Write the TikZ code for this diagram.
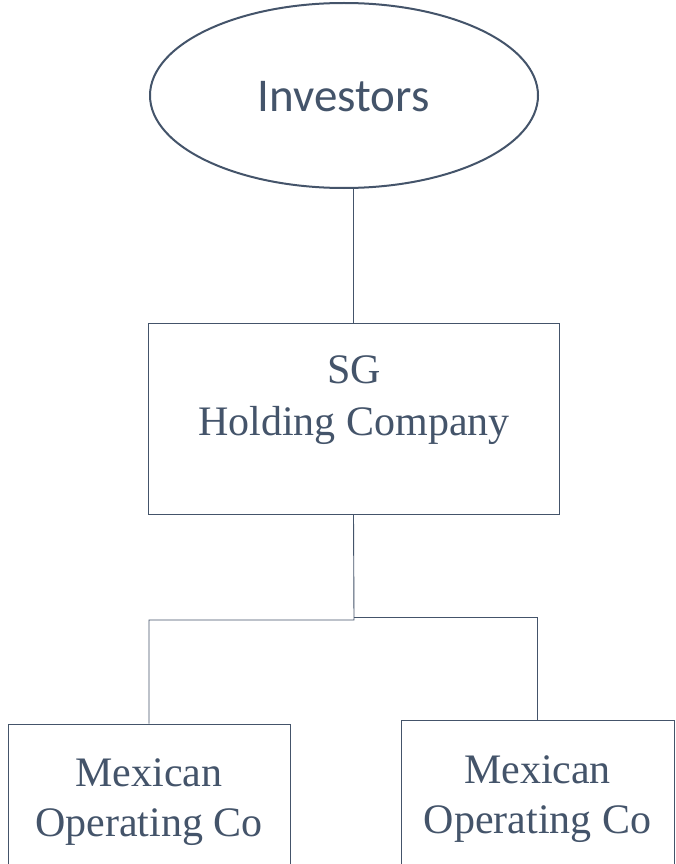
\documentclass[tikz,border=0pt]{standalone}
\usepackage{fontspec}
\setmainfont{Liberation Serif}
\newfontfamily\calfont{Carlito}
\usetikzlibrary{shapes.geometric}
\definecolor{slate}{HTML}{44546A}
\begin{document}
\begin{tikzpicture}[x=1pt,y=-1pt,
  orgbox/.style={draw=slate,line width=0.9pt,rectangle,inner sep=0pt,fill=white},
  serifline/.style={text=slate,inner sep=0pt,anchor=base,font=\fontsize{42}{50}\selectfont},
  link/.style={draw=slate,line width=0.9pt}]
\useasboundingbox (0,0) rectangle (675,864);
\clip (0,0) rectangle (675,864);
\fill[white] (0,0) rectangle (675,864);
% nodes
\node[draw=slate,line width=2pt,ellipse,inner sep=0pt,minimum width=388pt,minimum height=185pt] (inv) at (344,95.5) {};
\node[text=slate,inner sep=0pt,anchor=base,font=\calfont\fontsize{47}{56}\selectfont] (invt) at (343.5,112) {Investors};
\node[orgbox,minimum width=411pt,minimum height=191pt] (sg) at (353.5,418.5) {};
\node[serifline] (sg1) at (354,383) {SG};
\node[serifline] (sg2) at (354,435) {Holding Company};
\node[orgbox,minimum width=282pt,minimum height=170pt] (m1) at (149,809) {};
\node[serifline] (m1a) at (149,786) {Mexican};
\node[serifline] (m1b) at (149,836) {Operating Co};
\node[orgbox,minimum width=273pt,minimum height=170pt] (m2) at (537.5,805) {};
\node[serifline] (m2a) at (537.5,783) {Mexican};
\node[serifline] (m2b) at (537.5,833) {Operating Co};
% connectors
\coordinate (jl) at (354,620);
\coordinate (jr) at (354,617.5);
\draw[link] (sg.north) -- (sg.north |- inv.south);
\draw[link] (sg.south) -- (jl) -| (m1.north);
\draw[link] (jr) -| (m2.north);
\end{tikzpicture}
\end{document}
